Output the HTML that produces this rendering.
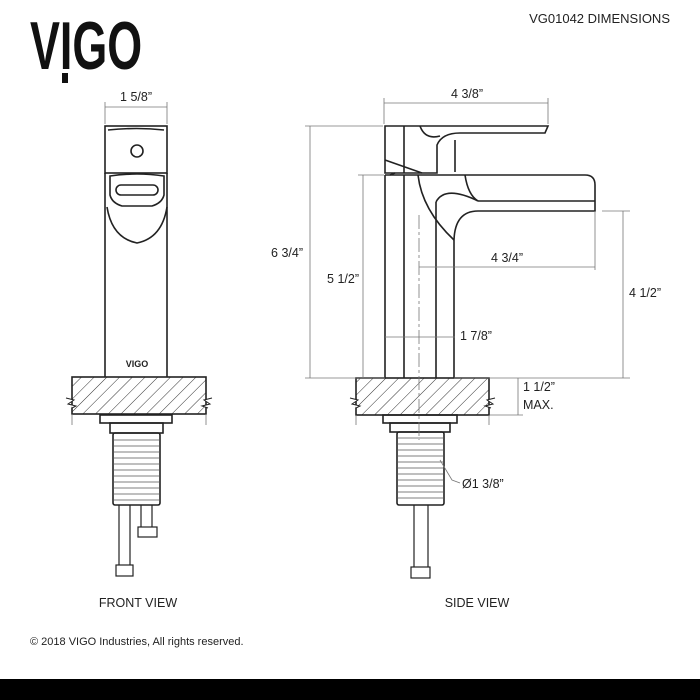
<!DOCTYPE html>
<html><head><meta charset="utf-8"><style>
html,body{margin:0;padding:0;background:#fff}
svg{display:block}
text{font-family:"Liberation Sans",sans-serif;fill:#222}
</style></head><body>
<svg width="700" height="700" viewBox="0 0 700 700" xmlns="http://www.w3.org/2000/svg">
<defs>
<pattern id="h" width="9" height="9" patternUnits="userSpaceOnUse" patternTransform="rotate(45)">
<line x1="0" y1="0" x2="0" y2="9" stroke="#333" stroke-width="1"/>
</pattern>
</defs>
<!-- logo -->
<text x="30" y="69" font-size="68" font-weight="bold" transform="translate(30 0) scale(0.66 1) translate(-30 0)" style="fill:#111">VIGO</text>
<rect x="62" y="73" width="6" height="10" fill="#111"/>
<text x="670" y="23" font-size="13" text-anchor="end">VG01042 DIMENSIONS</text>

<g fill="none" stroke="#222" stroke-width="1.6">
<!-- FRONT VIEW -->
<rect x="105" y="126" width="62" height="47"/>
<path d="M108 130 Q137 127 164 130"/>
<circle cx="137" cy="151" r="6"/>
<path d="M105 173 V377 M167 173 V377"/>
<path d="M110 176 L110 195 Q112 203 122 206 L152 206 Q162 203 164 195 L164 176 Q137 172 110 176Z"/>
<rect x="116" y="185" width="42" height="10" rx="5"/>
<path d="M107 207 Q112 238 137 243 Q162 238 167 207"/>
<rect x="72" y="377" width="134" height="37" fill="url(#h)"/>
<rect x="100" y="415" width="72" height="8"/>
<rect x="110" y="423" width="53" height="10"/>
<rect x="113" y="433" width="47" height="72" rx="2"/>
<path d="M119 505 V565 M130 505 V565 M141 505 V527 M152 505 V527" stroke-width="1.2"/>
<rect x="116" y="565" width="17" height="11" stroke-width="1.2"/>
<rect x="138" y="527" width="19" height="10" stroke-width="1.2"/>

<!-- SIDE VIEW -->
<path d="M385 126 H548 L545 133 H460 Q442 133 437 145 L437 173 H385Z"/>
<path d="M404 126 V173 M455 140 V172"/>
<path d="M385 160 L422 173"/>
<path d="M420 126 Q425 140 440 136"/>
<path d="M395 173 L390 175"/>
<path d="M385 175 V378 M404 175 V378 M436 202 V378 M454 240 V378"/>
<path d="M385 175 H585 Q595 175 595 185 V211 H478 Q455 211 454 240"/>
<path d="M478 201 H595"/>
<path d="M436 202 Q445 185 478 201"/>
<path d="M418 175 Q422 210 454 240"/>
<path d="M465 175 Q468 195 478 201"/>
<rect x="356" y="378" width="133" height="37" fill="url(#h)"/>
<rect x="383" y="415" width="74" height="8"/>
<rect x="390" y="423" width="60" height="9"/>
<rect x="397" y="432" width="47" height="73" rx="2"/>
<path d="M414 505 V567 M428 505 V567" stroke-width="1.2"/>
<rect x="411" y="567" width="19" height="11" stroke-width="1.2"/>
</g>

<!-- thread lines -->
<g stroke="#555" stroke-width="0.8">
<path d="M113 440 H160 M113 446 H160 M113 452 H160 M113 458 H160 M113 464 H160 M113 470 H160 M113 476 H160 M113 482 H160 M113 488 H160 M113 494 H160 M113 500 H160"/>
<path d="M397 438 H444 M397 444 H444 M397 450 H444 M397 456 H444 M397 462 H444 M397 468 H444 M397 474 H444 M397 480 H444 M397 486 H444 M397 492 H444 M397 498 H444"/>
</g>
<!-- zigzag breaks -->
<g fill="#fff" stroke="#222" stroke-width="1">
<path d="M66 398 L74 400 L68 404 L76 406 L72 408" />
<path d="M212 398 L204 400 L210 404 L202 406 L208 408"/>
<path d="M350 398 L358 400 L352 404 L360 406 L356 408"/>
<path d="M495 398 L487 400 L493 404 L485 406 L491 408"/>
</g>

<!-- dimension lines -->
<g stroke="#777" stroke-width="0.8" fill="none">
<path d="M105 107 H167 M105 102 V124 M167 102 V124"/>
<path d="M384 103 H548 M384 98 V124 M548 98 V124"/>
<path d="M310 126 V378 M305 126 H383 M305 378 H385"/>
<path d="M363 175 V378 M358 175 H384"/>
<path d="M419 267 H595 M595 211 V270"/>
<path d="M623 211 V378 M602 211 H630 M454 378 H630"/>
<path d="M385 337 H455"/>
<path d="M518 378 V415 M490 415 H523"/>
<path d="M72 414 V425 M206 414 V425 M356 415 V425 M489 415 V425"/>
<path d="M440 460 L452 480 L460 483"/>
<path d="M419 215 V440" stroke-dasharray="14 3 3 3"/>
</g>

<g font-size="12.5">
<text x="136" y="101" text-anchor="middle">1 5/8”</text>
<text x="467" y="98" text-anchor="middle">4 3/8”</text>
<text x="287" y="257" text-anchor="middle">6 3/4”</text>
<text x="343" y="283" text-anchor="middle">5 1/2”</text>
<text x="507" y="262" text-anchor="middle">4 3/4”</text>
<text x="645" y="297" text-anchor="middle">4 1/2”</text>
<text x="460" y="340">1 7/8”</text>
<text x="523" y="391">1 1/2”</text>
<text x="523" y="409">MAX.</text>
<text x="462" y="488">Ø1 3/8”</text>
<text x="138" y="607" text-anchor="middle">FRONT VIEW</text>
<text x="477" y="607" text-anchor="middle">SIDE VIEW</text>
</g>
<text x="137" y="367" font-size="9" font-weight="bold" text-anchor="middle">VIGO</text>
<text x="30" y="645" font-size="11">© 2018 VIGO Industries, All rights reserved.</text>
<rect x="0" y="679" width="700" height="21" fill="#000"/>
</svg>
</body></html>
